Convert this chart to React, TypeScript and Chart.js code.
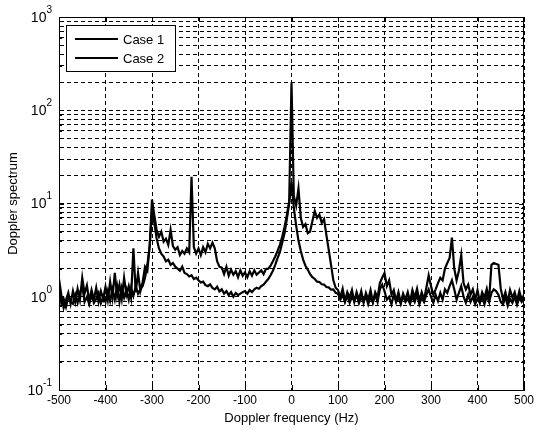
import React, { useEffect, useRef } from 'react';
import { Chart, registerables } from 'chart.js';

Chart.register(...registerables);

// Frequency grid of the spectra (Hz)
const FREQ_START = -500;
const FREQ_STEP = 5;

// Doppler spectrum, Case 1, one value per 5 Hz from -500 to 500 Hz
const case1 = [
  1.55, 1.05, 0.76, 0.92, 1.1, 0.84, 1.15, 0.88, 1.22, 0.93,
  1.6, 1.08, 1.32, 0.9, 1.18, 0.93, 1.25, 0.88, 1.15, 0.95,
  1.28, 0.92, 1.45, 0.98, 1.8, 1.02, 1.35, 0.95, 1.6, 1.05,
  1.3, 0.98, 3.3, 1.12, 1.8, 1.15, 1.45, 2.1, 1.9, 3.5,
  11.0, 7.5, 5.2, 4.4, 5.0, 3.9, 4.2, 3.6, 5.2, 3.5,
  3.2, 3.4, 2.8, 3.1, 2.9, 3.3, 3.0, 19.3, 3.4, 2.9,
  3.3, 2.8, 3.4, 3.0, 3.7, 3.3, 3.8, 3.3, 2.4, 2.1,
  2.05, 1.75, 2.1, 1.68, 1.95, 1.72, 1.88, 1.62, 1.92, 1.68,
  1.82, 1.62, 1.88, 1.68, 1.92, 1.72, 1.82, 1.92, 1.75, 1.98,
  2.0, 2.15, 2.4, 2.7, 3.1, 3.6, 4.4, 5.6, 7.5, 10.5,
  200, 12, 9.5, 14.5, 7.0, 5.6, 6.0, 4.8, 5.0, 6.5,
  8.3, 7.0, 7.6, 6.2, 6.8, 4.6, 3.2, 2.2, 1.5, 1.25,
  1.18, 0.98, 1.22, 0.9, 1.12, 0.98, 1.18, 0.88, 1.12, 0.93,
  1.15, 0.86, 1.1, 0.93, 1.18, 0.88, 1.12, 0.98, 1.4, 1.6,
  1.8, 1.3, 1.5, 1.05, 1.18, 0.9, 1.12, 0.86, 1.08, 0.93,
  1.12, 0.88, 1.18, 0.98, 1.22, 0.9, 1.12, 0.93, 1.25, 1.7,
  1.3, 1.05, 1.2, 1.4, 1.6, 1.5, 2.0, 2.3, 2.6, 4.3,
  2.0, 1.5, 1.9, 2.8, 1.4, 1.2, 1.35, 1.05, 1.2, 0.93,
  1.18, 0.88, 1.12, 0.98, 1.22, 0.93, 2.2, 2.3, 2.25, 2.2,
  1.22, 0.93, 1.12, 0.88, 1.18, 0.98, 1.12, 0.9, 1.15, 0.93,
  1.05,
];

// Doppler spectrum, Case 2, same frequency grid
const case2 = [
  1.2, 0.85, 0.95, 0.78, 1.0, 0.88, 0.84, 1.05, 0.86, 1.1,
  1.3, 0.88, 1.0, 0.83, 1.05, 0.86, 0.95, 1.1, 0.85, 1.0,
  0.88, 1.15, 0.9, 1.2, 0.93, 1.3, 0.88, 1.25, 0.98, 1.2,
  0.93, 1.25, 1.02, 1.3, 1.08, 1.2, 1.3, 1.6, 2.2, 3.5,
  8.0, 6.2, 4.2, 3.3, 2.9, 2.7, 2.4, 2.5, 2.2, 2.3,
  2.1, 2.0, 1.9, 2.1, 1.8, 1.75, 1.65, 1.7, 1.55, 1.6,
  1.5, 1.42, 1.45, 1.33, 1.3, 1.36, 1.24, 1.2, 1.28, 1.14,
  1.2, 1.08, 1.15, 1.04, 1.12, 1.0, 1.1, 1.04, 1.08, 1.12,
  1.15, 1.08, 1.18, 1.12, 1.2, 1.25, 1.22, 1.3, 1.35, 1.45,
  1.55, 1.7, 1.9, 2.2, 2.6, 3.0, 3.8, 4.8, 6.8, 10.0,
  17.0, 9.0, 5.8, 4.0, 3.1, 2.5, 2.15, 1.95, 1.75, 1.62,
  1.55, 1.45, 1.44, 1.36, 1.35, 1.27, 1.26, 1.19, 1.2, 1.1,
  1.08, 0.93, 1.05, 0.88, 1.02, 0.86, 1.0, 0.9, 1.05, 0.85,
  0.98, 0.88, 1.02, 0.83, 1.0, 0.86, 1.05, 0.88, 1.2, 1.35,
  1.15, 0.93, 1.0, 0.83, 1.05, 0.88, 0.98, 0.84, 1.02, 0.88,
  0.95, 0.84, 1.0, 0.88, 1.05, 0.83, 0.98, 0.88, 1.05, 1.2,
  1.0, 0.86, 1.05, 0.9, 1.1, 0.93, 1.2, 1.1, 1.3, 1.5,
  1.2, 0.93, 1.1, 1.3, 1.0, 0.86, 1.05, 0.88, 1.0, 0.83,
  0.95, 0.86, 1.0, 0.83, 1.02, 0.88, 1.1, 1.2, 1.15, 1.05,
  0.88, 0.83, 1.0, 0.8, 0.95, 0.86, 1.0, 0.82, 0.98, 0.88,
  0.95,
];

const seriesNames = ['Case 1', 'Case 2'];
const xTicks = [-500, -400, -300, -200, -100, 0, 100, 200, 300, 400, 500];
const yDecades = [-1, 0, 1, 2, 3];
const xTitle = 'Doppler frequency (Hz)';
const yTitle = 'Doppler spectrum';

const FONT = "'Liberation Sans', Arial, Helvetica, sans-serif";

const toPoints = (values: number[]) =>
  values.map((v, i) => ({ x: FREQ_START + i * FREQ_STEP, y: v }));

// every 1..9 x 10^n value between the lowest and highest decade
const logGridValues = (() => {
  const out: number[] = [];
  for (let d = yDecades[0]; d < yDecades[yDecades.length - 1]; d++) {
    for (let m = 1; m <= 9; m++) out.push(Number((m * Math.pow(10, d)).toPrecision(3)));
  }
  out.push(Math.pow(10, yDecades[yDecades.length - 1]));
  return out;
})();

const framePlugin = {
  id: 'matlabFrame',
  afterDraw(chart: any) {
    const { ctx, chartArea } = chart;
    const { left, right, top, bottom } = chartArea;
    const xs = chart.scales.x;
    const ys = chart.scales.y;
    ctx.save();
    ctx.setLineDash([]);
    ctx.strokeStyle = '#000';
    ctx.lineWidth = 1;

    // inner tick marks
    ctx.beginPath();
    xTicks.forEach((t) => {
      const px = Math.round(xs.getPixelForValue(t)) + 0.5;
      ctx.moveTo(px, top);
      ctx.lineTo(px, top + 5);
      ctx.moveTo(px, bottom);
      ctx.lineTo(px, bottom - 5);
    });
    logGridValues.forEach((v) => {
      const py = Math.round(ys.getPixelForValue(v)) + 0.5;
      const major = Math.abs(Math.log10(v) - Math.round(Math.log10(v))) < 1e-9;
      const len = major ? 5 : 3;
      ctx.moveTo(left, py);
      ctx.lineTo(left + len, py);
      ctx.moveTo(right, py);
      ctx.lineTo(right - len, py);
    });
    ctx.stroke();

    // axes box
    ctx.strokeRect(Math.round(left) + 0.5, Math.round(top) + 0.5,
      Math.round(right - left) - 1, Math.round(bottom - top));

    // y labels as powers of ten
    ctx.fillStyle = '#000';
    ctx.textBaseline = 'middle';
    yDecades.forEach((d) => {
      const py = ys.getPixelForValue(Math.pow(10, d));
      const exp = String(d);
      ctx.font = `10px ${FONT}`;
      const ew = ctx.measureText(exp).width;
      const expRight = left - 7;
      ctx.textAlign = 'right';
      ctx.fillText(exp, expRight, py - 7);
      ctx.font = `14px ${FONT}`;
      ctx.fillText('10', expRight - ew, py + 1);
    });

    // legend
    const lx = 66.5, ly = 25.5, lw = 109, lh = 46;
    ctx.fillStyle = '#fff';
    ctx.fillRect(lx, ly, lw, lh);
    ctx.strokeRect(lx, ly, lw, lh);
    ctx.font = `13px ${FONT}`;
    ctx.textAlign = 'left';
    ctx.textBaseline = 'middle';
    seriesNames.forEach((name, i) => {
      const yy = 39 + i * 19;
      ctx.strokeStyle = '#000';
      ctx.lineWidth = 2;
      ctx.beginPath();
      ctx.moveTo(75, yy);
      ctx.lineTo(118, yy);
      ctx.stroke();
      ctx.fillStyle = '#000';
      ctx.fillText(name, 123, yy + 1);
    });
    ctx.restore();
  },
};

export default function App() {
  const ref = useRef<HTMLCanvasElement>(null);

  useEffect(() => {
    if (!ref.current) return;
    const chart = new Chart(ref.current, {
      type: 'line',
      data: {
        datasets: [case1, case2].map((vals, i) => ({
          label: seriesNames[i],
          data: toPoints(vals),
          borderColor: '#000',
          backgroundColor: '#000',
          borderWidth: 2.2,
          pointRadius: 0,
          tension: 0,
          fill: false,
        })),
      },
      options: {
        responsive: false,
        animation: false,
        events: [],
        layout: { padding: { top: 17, right: 10, left: 0, bottom: 0 } },
        plugins: {
          legend: { display: false },
          tooltip: { enabled: false },
        },
        scales: {
          x: {
            type: 'linear',
            min: -500,
            max: 500,
            afterBuildTicks: (s: any) => {
              s.ticks = xTicks.map((v) => ({ value: v }));
            },
            afterFit: (s: any) => {
              s.height = 40;
              s.paddingLeft = 0;
              s.paddingRight = 0;
            },
            ticks: {
              color: '#000',
              font: { family: FONT, size: 12 },
              padding: 3,
              maxRotation: 0,
              autoSkip: false,
            },
            grid: { color: '#000', lineWidth: 1, drawTicks: false },
            border: { display: true, color: '#000', dash: [4, 3] },
            title: {
              display: true,
              text: xTitle,
              color: '#000',
              font: { family: FONT, size: 13 },
              padding: { top: 0, bottom: 4 },
            },
          },
          y: {
            type: 'logarithmic',
            min: 0.1,
            max: 1000,
            afterBuildTicks: (s: any) => {
              s.ticks = logGridValues.map((v) => ({ value: v }));
            },
            afterFit: (s: any) => {
              s.width = 59;
              s.paddingTop = 0;
              s.paddingBottom = 0;
            },
            ticks: { display: false },
            grid: { color: '#000', lineWidth: 1, drawTicks: false },
            border: { display: true, color: '#000', dash: [4, 3] },
            title: {
              display: true,
              text: yTitle,
              color: '#000',
              font: { family: FONT, size: 13 },
              padding: { top: 6, bottom: 0 },
            },
          },
        },
      },
      plugins: [framePlugin],
    } as any);
    return () => chart.destroy();
  }, []);

  return (
    <div style={{ position: 'fixed', left: 0, top: 0, width: 534, height: 430, background: '#fff' }}>
      <canvas ref={ref} width={534} height={430} style={{ display: 'block' }} />
    </div>
  );
}
